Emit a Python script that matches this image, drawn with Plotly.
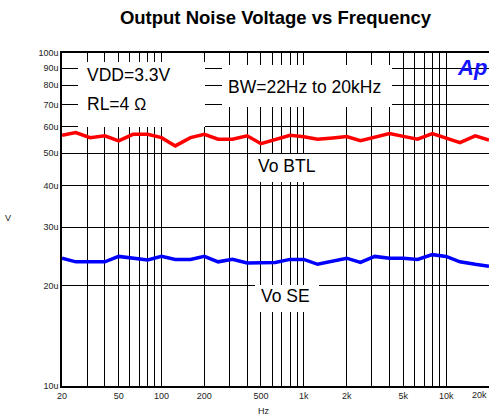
import plotly.graph_objects as go

# 1/3-octave analysis frequencies (Hz)
freq_hz = [20, 25, 31.5, 40, 50, 63, 80, 100, 125, 160, 200, 250, 315, 400, 500,
           630, 800, 1000, 1250, 1600, 2000, 2500, 3150, 4000, 5000, 6300, 8000,
           10000, 12500, 16000, 20000]

# Output noise voltage, microvolts
vo_btl_uv = [56.6, 57.7, 55.7, 56.4, 54.5, 57.0, 57.0, 55.7, 52.6, 55.7, 57.0,
             55.1, 55.1, 56.4, 53.4, 55.1, 56.6, 56.0, 55.1, 55.6, 56.1, 54.5,
             55.9, 57.3, 56.2, 55.1, 57.3, 55.6, 53.8, 56.4, 54.8]
vo_se_uv = [24.2, 23.6, 23.6, 23.6, 24.5, 24.2, 23.9, 24.5, 24.0, 24.0, 24.5,
            23.6, 24.0, 23.4, 23.4, 23.5, 24.0, 24.0, 23.2, 23.7, 24.2, 23.5,
            24.5, 24.2, 24.2, 24.0, 24.8, 24.5, 23.6, 23.2, 22.9]

# Axis ticks
x_grid = [20, 30, 40, 50, 60, 70, 80, 90, 100, 200, 300, 400, 500, 600, 700, 800,
          900, 1000, 2000, 3000, 4000, 5000, 6000, 7000, 8000, 9000, 10000, 20000]
x_labels = {20: "20", 50: "50", 100: "100", 200: "200", 500: "500", 1000: "1k",
            2000: "2k", 5000: "5k", 10000: "10k", 20000: "20k"}
y_ticks = [10, 20, 30, 40, 50, 60, 70, 80, 90, 100]
y_labels = ["10u", "20u", "30u", "40u", "50u", "60u", "70u", "80u", "90u", "100u"]

W, H = 489, 419
L, R, T, B = 62, 0, 53, 33
PW, PH = W - L - R, H - T - B


def px(x):
    return (x - L) / PW


def py(y):
    return (H - B - y) / PH


FONT = "Liberation Sans, Arial, sans-serif"

fig = go.Figure()
fig.add_trace(go.Scatter(x=freq_hz, y=vo_btl_uv, mode="lines",
                         line=dict(color="#ff0000", width=3.5), name="Vo BTL"))
fig.add_trace(go.Scatter(x=freq_hz, y=vo_se_uv, mode="lines",
                         line=dict(color="#0000ff", width=3.5), name="Vo SE"))

# the last frequency label is drawn separately so it stays inside the page
x_text = [x_labels.get(v, "") if v != x_grid[-1] else "" for v in x_grid]

fig.update_xaxes(type="log", range=[1.30103, 4.30103],
                 tickvals=x_grid, ticktext=x_text, ticks="",
                 showgrid=True, gridcolor="#000000", gridwidth=1,
                 showline=True, linecolor="#000000", linewidth=1.5, mirror=True,
                 tickfont=dict(family=FONT, size=9, color="#222222"),
                 zeroline=False)
fig.update_yaxes(type="log", range=[1, 2],
                 tickvals=y_ticks, ticktext=y_labels, ticks="",
                 showgrid=True, gridcolor="#000000", gridwidth=1,
                 showline=True, linecolor="#000000", linewidth=1.5,
                 tickfont=dict(family=FONT, size=9, color="#222222"),
                 ticklabelstandoff=0, zeroline=False)

# white label backgrounds over the grid (placed clear of both curves)
boxes = [(78, 62, 205, 127), (222, 65, 392, 107), (253, 154, 322, 182),
         (255, 285, 319, 312)]
for x0, y0, x1, y1 in boxes:
    fig.add_shape(type="rect", xref="paper", yref="paper",
                  x0=px(x0), x1=px(x1), y0=py(y1), y1=py(y0),
                  fillcolor="#ffffff", line=dict(width=0), layer="above")

txt = dict(family=FONT, size=17.5, color="#000000")
notes = [
    dict(text="VDD=3.3V", x=px(85), y=py(75), xanchor="left"),
    dict(text="RL=4 <span style='font-size:16px'>Ω</span>", x=px(85), y=py(104),
         xanchor="left"),
    dict(text="BW=22Hz to 20kHz", x=px(304), y=py(87), xanchor="center"),
    dict(text="Vo BTL", x=px(286.5), y=py(166), xanchor="center"),
    dict(text="Vo SE", x=px(285.5), y=py(296), xanchor="center"),
]
for n in notes:
    fig.add_annotation(xref="paper", yref="paper", yanchor="middle",
                       showarrow=False, font=txt, **n)

fig.add_annotation(xref="paper", yref="paper", x=px(472), y=py(67),
                   text="<b><i>Ap</i></b>", showarrow=False,
                   font=dict(family=FONT, size=22, color="#1414ff"),
                   xanchor="center", yanchor="middle")

small = dict(family=FONT, size=9, color="#222222")
fig.add_annotation(xref="paper", yref="paper", x=1.0, y=py(395),
                   text=x_labels[x_grid[-1]], showarrow=False, font=small,
                   xanchor="right", yanchor="middle")
fig.add_annotation(xref="paper", yref="paper", x=px(264), y=py(411),
                   text="Hz", showarrow=False, font=small,
                   xanchor="center", yanchor="middle")
fig.add_annotation(xref="paper", yref="paper", x=px(8), y=py(218),
                   text="V", showarrow=False, font=small,
                   xanchor="center", yanchor="middle")

fig.update_layout(
    width=W, height=H,
    margin=dict(l=L, r=R, t=T, b=B),
    paper_bgcolor="#ffffff", plot_bgcolor="#ffffff",
    showlegend=False,
    title=dict(text="<b>Output Noise Voltage vs Frequency</b>",
               x=0.5, xref="paper", xanchor="center",
               y=1 - 18 / H, yref="container", yanchor="middle",
               font=dict(family=FONT, size=18.5, color="#000000")),
)

fig.write_html("out.html")
